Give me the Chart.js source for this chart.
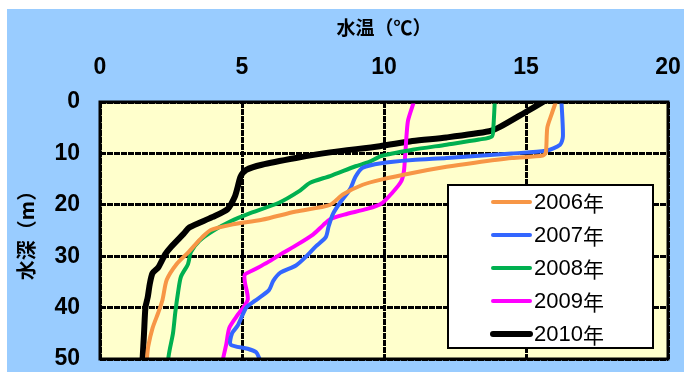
<!DOCTYPE html>
<html lang="ja">
<head>
<meta charset="utf-8">
<title>水温の鉛直分布</title>
<script src="https://cdn.jsdelivr.net/npm/chart.js@4.4.1/dist/chart.umd.min.js"></script>
<style>
  html, body { margin: 0; padding: 0; background: #ffffff; }
  body { width: 684px; height: 372px; overflow: hidden; position: relative; }
  #wrap { position: absolute; left: 7px; top: 9px; width: 677px; height: 363px; background: #99CCFF; }
  canvas { display: block; }
</style>
</head>
<body>
<div id="wrap"><canvas id="chart" width="677" height="363"></canvas></div>
<script>
// Water temperature (°C) against depth (m), one profile per year
const seriesLabels = ['2006年', '2007年', '2008年', '2009年', '2010年'];
const seriesColors = ['#F79646', '#3366FF', '#00B050', '#FF00FF', '#000000'];
const seriesWidths = [4, 4, 4, 4, 6];

const depth2006 = [0, 2.4, 5, 9.8, 10.4, 10.9, 11.8, 12.6, 13.8, 15.1, 16.1, 18, 20, 21.3, 22.9, 23.9, 24.9, 26.3, 29.3, 31.5, 34.6, 38.5, 41, 44, 47.5, 50];
const temp2006  = [16.05, 15.9, 15.75, 15.7, 15.6, 14.5, 13.2, 12.2, 11.0, 9.9, 9.25, 8.55, 8.1, 6.9, 5.7, 4.6, 3.9, 3.6, 3.1, 2.7, 2.35, 2.2, 2.05, 1.85, 1.7, 1.65];

const depth2007 = [0, 6.7, 8.3, 9.5, 10, 10.9, 11.3, 11.9, 12.8, 14.5, 17, 19.6, 21.8, 24.2, 26.3, 28.1, 30.1, 31.8, 33.2, 34.8, 36.6, 38.7, 40, 43.5, 45, 47.2, 48, 48.7, 50];
const temp2007  = [16.25, 16.3, 16.2, 15.7, 14.5, 12.2, 11.0, 9.9, 9.25, 9.0, 8.8, 8.45, 8.2, 8.05, 7.95, 7.6, 7.25, 6.9, 6.35, 6.1, 5.95, 5.45, 5.15, 4.85, 4.65, 4.6, 5.2, 5.5, 5.62];

const depth2008 = [0, 5, 6.7, 7.3, 8.3, 9.3, 10.5, 11.6, 12.5, 14.4, 15.7, 17.4, 19.6, 21.8, 23.2, 25, 27, 29.2, 31.5, 34, 37, 41, 45, 48.3, 50];
const temp2008  = [13.9, 13.85, 13.8, 13.35, 12.2, 11.0, 9.9, 9.5, 9.0, 8.1, 7.4, 7.0, 6.3, 5.2, 4.6, 4.0, 3.5, 3.2, 3.1, 2.85, 2.75, 2.65, 2.57, 2.45, 2.4];

const depth2009 = [0, 3.5, 6, 10, 13.5, 15.5, 17.6, 19.8, 20.8, 21.9, 22.8, 24, 25.8, 27.9, 29.5, 31.2, 32.7, 33.6, 35, 38.5, 41.8, 44, 47, 50];
const temp2009  = [11.05, 10.85, 10.8, 10.75, 10.7, 10.6, 10.3, 9.9, 9.4, 8.6, 8.1, 7.85, 7.5, 6.9, 6.4, 5.9, 5.4, 5.1, 5.1, 5.2, 4.8, 4.55, 4.45, 4.33];

const depth2010 = [0, 2, 4.8, 5.7, 6.9, 7.6, 8.6, 9.8, 10.9, 12.2, 13.2, 14.5, 16.5, 18.4, 20.8, 22.4, 24.4, 25.6, 28.2, 29.6, 32.2, 33.3, 35.5, 38, 40, 45, 50];
const temp2010  = [15.6, 14.98, 14.1, 13.7, 12.2, 11.0, 9.85, 8.1, 6.9, 5.7, 5.15, 4.95, 4.85, 4.75, 4.5, 3.95, 3.15, 2.95, 2.5, 2.3, 2.05, 1.85, 1.75, 1.68, 1.6, 1.55, 1.5];

const tempTicks = [0, 5, 10, 15, 20];
const depthTicks = [0, 10, 20, 30, 40, 50];

const profiles = [
  [temp2006, depth2006],
  [temp2007, depth2007],
  [temp2008, depth2008],
  [temp2009, depth2009],
  [temp2010, depth2010]
];

const datasets = profiles.map(([temps, depths], i) => ({
  label: seriesLabels[i],
  data: temps.map((t, k) => ({ x: t, y: depths[k] })),
  borderColor: seriesColors[i],
  backgroundColor: seriesColors[i],
  borderWidth: seriesWidths[i],
  showLine: true,
  pointRadius: 0,
  pointHoverRadius: 0,
  tension: 0.25,
  borderCapStyle: 'round',
  borderJoinStyle: 'round'
}));

const NUM_FONT = '"Liberation Sans", Arial, sans-serif';
const JP_FONT = '"Noto Sans CJK JP", "Noto Sans", sans-serif';

// Pale plot fill, black frame and the boxed legend inside the plot
const plotDecor = {
  id: 'plotDecor',
  beforeDraw(chart) {
    const { ctx, chartArea: a } = chart;
    ctx.save();
    ctx.fillStyle = '#FFFFCC';
    ctx.fillRect(a.left, a.top, a.right - a.left, a.bottom - a.top);
    ctx.restore();
  },
  afterDatasetsDraw(chart) {
    const { ctx, chartArea: a } = chart;
    ctx.save();
    ctx.strokeStyle = '#000';
    ctx.lineWidth = 3;
    ctx.strokeRect(a.left, a.top, a.right - a.left, a.bottom - a.top);

    // legend box
    const boxW = 205, boxH = 163;
    const bx = a.right - 15 - boxW;
    const by = a.bottom - 11 - boxH;
    ctx.fillStyle = '#ffffff';
    ctx.fillRect(bx, by, boxW, boxH);
    ctx.lineWidth = 2;
    ctx.strokeStyle = '#000';
    ctx.strokeRect(bx, by, boxW, boxH);

    ctx.textBaseline = 'middle';
    ctx.textAlign = 'left';
    chart.data.datasets.forEach((ds, i) => {
      const cy = by + 17 + i * 33;
      ctx.beginPath();
      ctx.strokeStyle = ds.borderColor;
      ctx.lineWidth = ds.borderWidth;
      ctx.lineCap = 'round';
      ctx.moveTo(bx + 45, cy);
      ctx.lineTo(bx + 82, cy);
      ctx.stroke();
      ctx.fillStyle = '#000';
      ctx.font = '22px ' + NUM_FONT;
      const yr = ds.label.replace('年', '');
      ctx.fillText(yr, bx + 86, cy + 1);
      const w = ctx.measureText(yr).width;
      ctx.font = '21px ' + JP_FONT;
      ctx.fillText('年', bx + 86 + w, cy + 1);
    });
    ctx.restore();
  }
};

function fixedBox(prop, size) {
  return function (scale) {
    scale[prop] = size;
    scale.paddingLeft = 0;
    scale.paddingRight = 0;
    scale.paddingTop = 0;
    scale.paddingBottom = 0;
  };
}

new Chart(document.getElementById('chart'), {
  type: 'scatter',
  data: { datasets },
  options: {
    responsive: false,
    maintainAspectRatio: false,
    devicePixelRatio: 1,
    animation: false,
    events: [],
    layout: { padding: { top: 0, left: 0, right: 16, bottom: 13 } },
    plugins: {
      legend: { display: false },
      tooltip: { enabled: false }
    },
    scales: {
      x: {
        type: 'linear',
        position: 'top',
        min: 0,
        max: 20,
        afterFit: fixedBox('height', 93),
        afterBuildTicks(scale) { scale.ticks = tempTicks.map(v => ({ value: v })); },
        ticks: {
          padding: 23,
          color: '#000',
          font: { family: NUM_FONT, size: 23, weight: 'bold', lineHeight: 1 },
          maxRotation: 0
        },
        grid: { color: '#000', lineWidth: 3, drawTicks: false },
        border: { display: false, dash: [6, 1] },
        title: {
          display: true,
          text: '水温（℃）',
          color: '#000',
          font: { family: JP_FONT, size: 19, weight: 'bold', lineHeight: 1 },
          padding: { top: 9, bottom: 0 }
        }
      },
      y: {
        type: 'linear',
        reverse: true,
        min: 0,
        max: 50,
        afterFit: fixedBox('width', 93),
        afterBuildTicks(scale) { scale.ticks = depthTicks.map(v => ({ value: v })); },
        ticks: {
          padding: 20,
          color: '#000',
          font: { family: NUM_FONT, size: 23, weight: 'bold', lineHeight: 1 }
        },
        grid: { color: '#000', lineWidth: 3, drawTicks: false },
        border: { display: false, dash: [6, 1] },
        title: {
          display: true,
          text: '水深（m）',
          color: '#000',
          font: { family: JP_FONT, size: 20, weight: 'bold', lineHeight: 1 },
          padding: { top: 9, bottom: 0 }
        }
      }
    }
  },
  plugins: [plotDecor]
});
</script>
</body>
</html>
